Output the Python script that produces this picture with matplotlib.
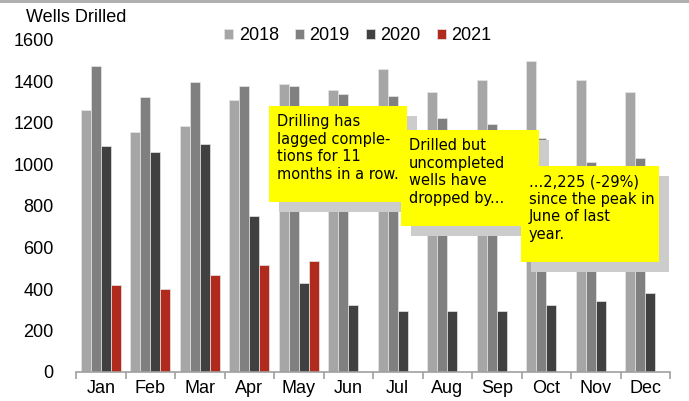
import numpy as np
import matplotlib.pyplot as plt
from matplotlib.patches import Rectangle

plt.rcParams['font.family'] = ['Liberation Sans', 'DejaVu Sans']

months = ['Jan', 'Feb', 'Mar', 'Apr', 'May', 'Jun', 'Jul', 'Aug', 'Sep', 'Oct', 'Nov', 'Dec']
years = ['2018', '2019', '2020', '2021']

wells_2018 = [1263, 1157, 1186, 1311, 1388, 1357, 1462, 1348, 1405, 1500, 1405, 1348]
wells_2019 = [1475, 1327, 1396, 1377, 1377, 1338, 1328, 1222, 1193, 1126, 1011, 1030]
wells_2020 = [1089, 1060, 1099, 753, 427, 321, 292, 292, 292, 321, 341, 379]
wells_2021 = [418, 398, 466, 514, 533]

colors = ['#a6a6a6', '#808080', '#404040', '#b02b1e']

notes = [
    "Drilling has\nlagged comple-\ntions for 11\nmonths in a row.",
    "Drilled but\nuncompleted\nwells have\ndropped by...",
    "...2,225 (-29%)\nsince the peak in\nJune of last\nyear.",
]
# note boxes in pixels: left, top, right, bottom
note_boxes = [(269, 106, 407, 202), (401, 130, 539, 226), (521, 166, 659, 262)]

W, H = 689, 401
fig = plt.figure(figsize=(W / 100, H / 100), dpi=100)
ax = fig.add_axes([76 / W, (H - 372) / H, 594 / W, 332 / H])

x = np.arange(len(months))
bw = 0.2
series = [wells_2018, wells_2019, wells_2020, wells_2021]
for i, (vals, c, lab) in enumerate(zip(series, colors, years)):
    xs = x[:len(vals)] + (i - 1.5) * bw
    ax.bar(xs, vals, width=bw, color=c, edgecolor='#e6e6e6', linewidth=0.5, label=lab)

ax.set_xlim(-0.5, 11.5)
ax.set_ylim(0, 1600)
ax.set_yticks(range(0, 1601, 200))
ax.tick_params(axis='y', length=0, pad=16, labelsize=13)
ax.set_xticks(x)
ax.set_xticklabels(months, fontsize=13)
ax.set_xticks(np.arange(-0.5, 12, 1), minor=True)
ax.tick_params(axis='x', which='major', length=0, pad=6)
ax.tick_params(axis='x', which='minor', length=5, color='#a0a0a0', width=1.2)
for s in ['top', 'right', 'left']:
    ax.spines[s].set_visible(False)
ax.spines['bottom'].set_color('#a0a0a0')
ax.spines['bottom'].set_linewidth(1.2)

fig.text(26 / W, 1 - 18 / H, 'Wells Drilled', fontsize=13, va='center', ha='left')

leg = ax.legend(loc='center', bbox_to_anchor=(358 / W, 1 - 36 / H), bbox_transform=fig.transFigure,
                ncol=4, frameon=False, fontsize=13, handlelength=0.5, handleheight=0.5,
                handletextpad=0.3, columnspacing=0.9)

# yellow call-out notes with a grey drop shadow
for (l, t, r, b), txt in zip(note_boxes, notes):
    fig.add_artist(Rectangle(((l + 10) / W, 1 - (b + 10) / H), (r - l) / W, (b - t) / H,
                             transform=fig.transFigure, facecolor='#cccccc', edgecolor='none'))
    fig.add_artist(Rectangle((l / W, 1 - b / H), (r - l) / W, (b - t) / H,
                             transform=fig.transFigure, facecolor='#ffff00', edgecolor='none'))
    fig.text((l + 8) / W, 1 - (t + 8) / H, txt, fontsize=10.5, va='top', ha='left',
             family=['DejaVu Sans'], linespacing=1.22)

# grey band along the top edge
fig.add_artist(Rectangle((0, 1 - 3 / H), 1, 3 / H, transform=fig.transFigure,
                         facecolor='#b0b0b0', edgecolor='none'))

fig.savefig('out.png', dpi=100)
